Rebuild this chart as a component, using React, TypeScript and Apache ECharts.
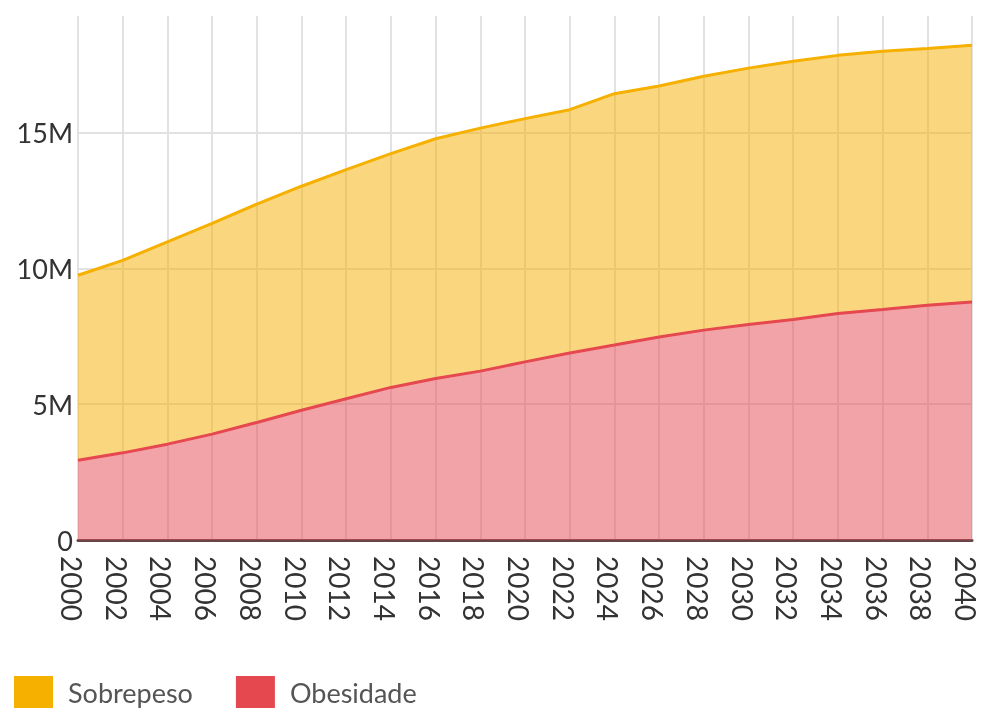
import React, { useEffect, useRef } from "react";
import * as echarts from "echarts";

const years = ["2000", "2002", "2004", "2006", "2008", "2010", "2012", "2014", "2016", "2018", "2020", "2022", "2024", "2026", "2028", "2030", "2032", "2034", "2036", "2038", "2040"];
// Obesidade (bottom layer), millions
const obesidade = [2.94, 3.21, 3.53, 3.9, 4.33, 4.78, 5.2, 5.62, 5.95, 6.22, 6.56, 6.89, 7.18, 7.48, 7.73, 7.94, 8.12, 8.34, 8.49, 8.65, 8.77];
// Sobrepeso (stacked on top of Obesidade), millions
const sobrepeso = [6.81, 7.09, 7.45, 7.76, 8.04, 8.25, 8.44, 8.61, 8.83, 8.95, 8.96, 8.96, 9.26, 9.24, 9.35, 9.44, 9.51, 9.51, 9.51, 9.45, 9.45];
const seriesNames = ["Sobrepeso", "Obesidade"];
const colors = { Sobrepeso: "#f5b000", Obesidade: "#e5484f" };
const yMax = 19.3e6;
const yInterval = 5e6;

export default function App() {
  const ref = useRef<HTMLDivElement>(null);
  useEffect(() => {
    if (!ref.current) return;
    const chart = echarts.init(ref.current, null, { renderer: "svg" });
    const mk = (name: string, vals: number[]) => ({
      name,
      type: "line",
      stack: "total",
      data: vals.map((v) => v * 1e6),
      showSymbol: false,
      symbol: "none",
      lineStyle: { color: colors[name], width: 3 },
      itemStyle: { color: colors[name] },
      areaStyle: { color: colors[name], opacity: 0.5 },
    });
    chart.setOption({
      animation: false,
      textStyle: { fontFamily: "Lato" },
      grid: { left: 78, right: 12, top: 16, bottom: 169, containLabel: false },
      legend: {
        data: seriesNames,
        left: 14,
        top: 676,
        padding: 0,
        itemWidth: 39,
        itemHeight: 32,
        itemGap: 43,
        icon: "rect",
        textStyle: { fontSize: 27, color: "#555", fontFamily: "Lato", padding: [3, 0, 0, 10] },
      },
      xAxis: {
        type: "category",
        data: years,
        boundaryGap: false,
        axisLine: { show: true, lineStyle: { color: "#664646", width: 3 } },
        axisTick: { show: false },
        axisLabel: {
          interval: 0,
          rotate: -90,
          fontSize: 28,
          color: "#333",
          margin: 16,
          verticalAlign: "top",
          lineHeight: 12,
        },
        splitLine: { show: true, interval: 0, lineStyle: { color: "#e2e2e2", width: 2 } },
      },
      yAxis: {
        type: "value",
        min: 0,
        max: yMax,
        interval: yInterval,
        axisLine: { show: false },
        axisTick: { show: false },
        axisLabel: {
          fontSize: 27,
          color: "#333",
          margin: 5,
          showMaxLabel: false,
          formatter: (v: number) => (v === 0 ? "0" : v % yInterval === 0 ? v / 1e6 + "M" : ""),
        },
        splitLine: { show: true, showMaxLine: false, lineStyle: { color: "#e2e2e2", width: 2 } },
      },
      series: [mk("Obesidade", obesidade), mk("Sobrepeso", sobrepeso)],
    });
    return () => chart.dispose();
  }, []);
  return <div ref={ref} style={{ position: "fixed", left: 0, top: 0, width: 984, height: 709 }} />;
}
